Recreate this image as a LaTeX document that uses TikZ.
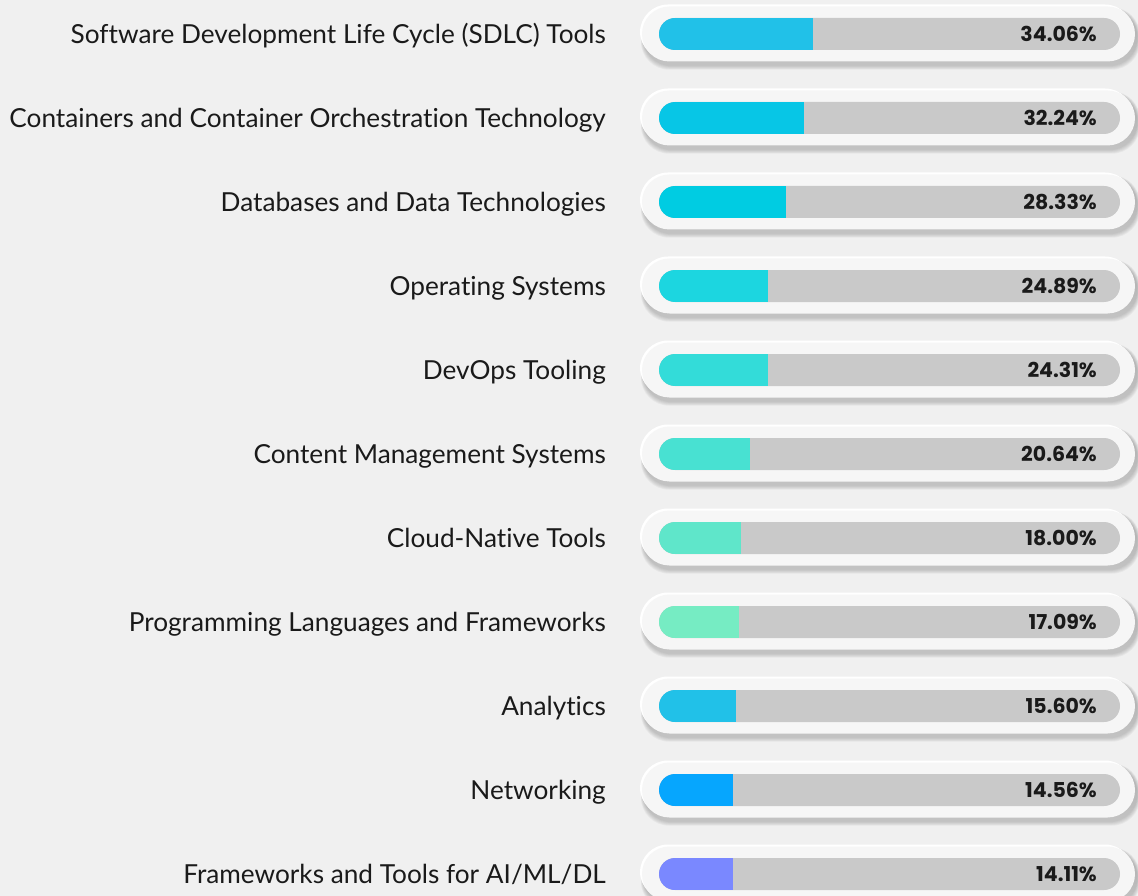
\documentclass[tikz,border=0pt]{standalone}
\usepackage{fontspec}
\setmainfont{Lato}[Ligatures={NoCommon,NoContextual}]
\newfontfamily\pctfont{Poppins}
\definecolor{bg}{HTML}{F0F0F0}
\definecolor{pill}{HTML}{F6F6F6}
\definecolor{track}{HTML}{C9C9C9}
\definecolor{shade}{HTML}{8A8FA8}
\definecolor{txt}{HTML}{1A1A1A}
\definecolor{c1}{HTML}{21C1E8}
\definecolor{c2}{HTML}{07C6E6}
\definecolor{c3}{HTML}{00CCE2}
\definecolor{c4}{HTML}{1CD6E0}
\definecolor{c5}{HTML}{33DCD9}
\definecolor{c6}{HTML}{48E1D2}
\definecolor{c7}{HTML}{5FE6CA}
\definecolor{c8}{HTML}{76ECC3}
\definecolor{c9}{HTML}{21C1E8}
\definecolor{c10}{HTML}{06A6FE}
\definecolor{c11}{HTML}{7A88FF}
\tikzset{
  lbl/.style={anchor=base east, inner sep=0pt, font=\fontsize{26.2}{30}\selectfont, text=txt},
  pct/.style={anchor=base east, inner sep=0pt, font=\pctfont\bfseries\fontsize{20.5}{24}\selectfont, text=txt},
}
\begin{document}
\begin{tikzpicture}[x=1pt,y=-1pt]
\useasboundingbox (0,0) rectangle (1138,896);
\fill[bg] (0,0) rectangle (1138,896);
\foreach \i/\name/\val/\fx in {
  1/{Software Development Life Cycle (SDLC) Tools}/34.06\%/813,
  2/{Containers and Container Orchestration Technology}/32.24\%/804,
  3/{Databases and Data Technologies}/28.33\%/786,
  4/{Operating Systems}/24.89\%/768,
  5/{DevOps Tooling}/24.31\%/768,
  6/{Content Management Systems}/20.64\%/750,
  7/{Cloud-Native Tools}/18.00\%/741,
  8/{Programming Languages and Frameworks}/17.09\%/739,
  9/{Analytics}/15.60\%/736,
  10/{Networking}/14.56\%/733,
  11/{Frameworks and Tools for AI/ML/DL}/14.11\%/733}{
  \pgfmathsetmacro{\yc}{34+84*(\i-1)}
  % shadow
  \foreach \k in {1,...,6}{
    \fill[shade, opacity=0.035, rounded corners=28pt]
      (642-\k*0.5+2, \yc-27.5-\k*0.5+4) rectangle (1135+\k*0.5+2, \yc+27.5+\k*0.7+4);
  }
  % highlight
  \fill[white, rounded corners=28pt] (640,\yc-29.5) rectangle (1133,\yc+25.5);
  % pill
  \fill[pill, rounded corners=27.5pt] (642,\yc-27.5) rectangle (1135,\yc+27.5);
  % track
  \fill[track, rounded corners=16pt] (659,\yc-16) rectangle (1120,\yc+16);
  \begin{scope}
    \clip[rounded corners=16pt] (659,\yc-16) rectangle (1120,\yc+16);
    \fill[c\i] (659,\yc-16) rectangle (\fx,\yc+16);
  \end{scope}
  \node[lbl] (l\i) at (606,\yc+9.5) {\name};
  \node[pct] (p\i) at (1097,\yc+7.5) {\val};
}
\end{tikzpicture}
\end{document}
